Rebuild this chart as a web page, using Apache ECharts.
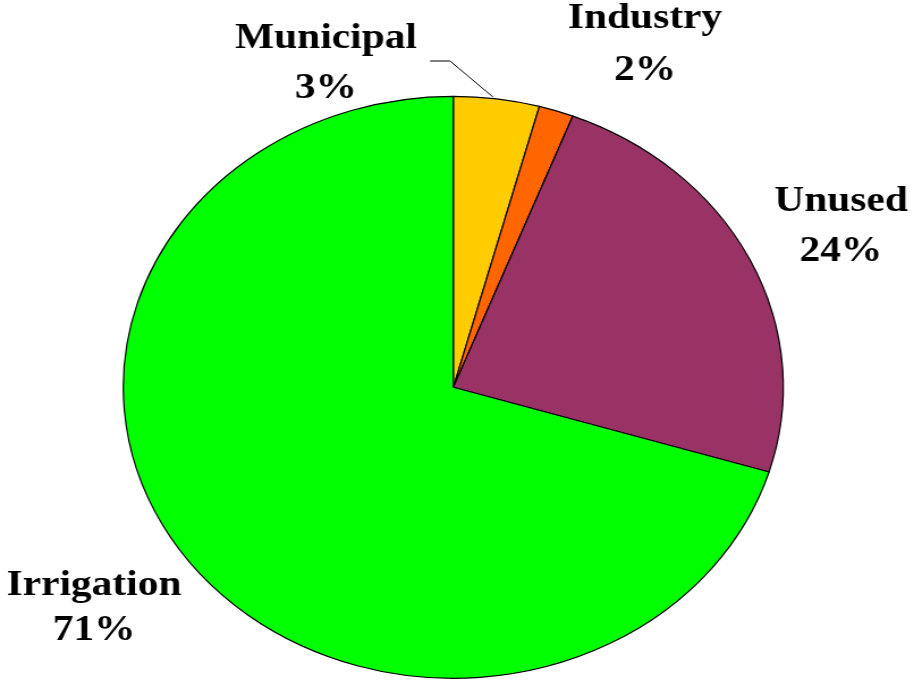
<!DOCTYPE html>
<html><head><meta charset="utf-8">
<script src="https://cdn.jsdelivr.net/npm/echarts@6/dist/echarts.min.js"></script>
<style>
html,body{margin:0;padding:0;background:#fff;overflow:hidden}
#wrap{position:absolute;left:0;top:0;width:918px;height:680px;overflow:hidden;background:#fff}
#chart{position:absolute;left:0;top:0;width:810px;height:680px;transform-origin:0 0}
</style></head>
<body><div id="wrap"><div id="chart"></div></div>
<script>
// ---- data ----
const categories = ['Municipal', 'Industry', 'Unused', 'Irrigation'];
const values = [4.2, 1.7, 23.8, 70.3];
const labelPercents = ['3%', '2%', '24%', '71%'];

// ---- styling / layout ----
const colors = ['#FFCC00', '#FF6600', '#993366', '#00FF00'];
const SX = 330 / 291;                 // horizontal stretch of the ellipse
const chartDiv = document.getElementById('chart');
chartDiv.style.transform = 'scaleX(' + SX + ')';
const textStretch = 1.15;             // widen serif glyphs
const FONT = 'bold 36px "Liberation Serif", "Times New Roman", serif';
// screen-space label anchors: [centerX, nameBaseline, pctBaseline]
const labelPos = [[326, 50, 100], [645, 30, 82], [841, 213, 263], [94, 597, 642]];

const graphics = [];
categories.forEach((c, i) => {
  const p = labelPos[i];
  [[c, p[1]], [labelPercents[i], p[2]]].forEach(t => {
    graphics.push({
      type: 'text', x: p[0] / SX, y: t[1] - 11, scaleX: textStretch / SX, z: 100,
      style: { text: t[0], font: FONT, fill: '#000', align: 'center', verticalAlign: 'middle' }
    });
  });
});
graphics.push({
  type: 'polyline', z: 100,
  shape: { points: [[430 / SX, 61], [450 / SX, 61], [493 / SX, 97]] },
  style: { stroke: '#000', lineWidth: 1, fill: null }
});

const chart = echarts.init(chartDiv, null, { renderer: 'canvas' });
chart.setOption({
  animation: false,
  backgroundColor: 'transparent',
  graphic: graphics,
  series: [{
    type: 'pie',
    center: [453.3 / SX, 387.3],
    radius: 291,
    startAngle: 90,
    clockwise: true,
    label: { show: false },
    labelLine: { show: false },
    emphasis: { disabled: true },
    itemStyle: { borderColor: '#000', borderWidth: 1.2 },
    data: categories.map((c, i) => ({ name: c, value: values[i], itemStyle: { color: colors[i] } }))
  }]
});
</script>
</body></html>
